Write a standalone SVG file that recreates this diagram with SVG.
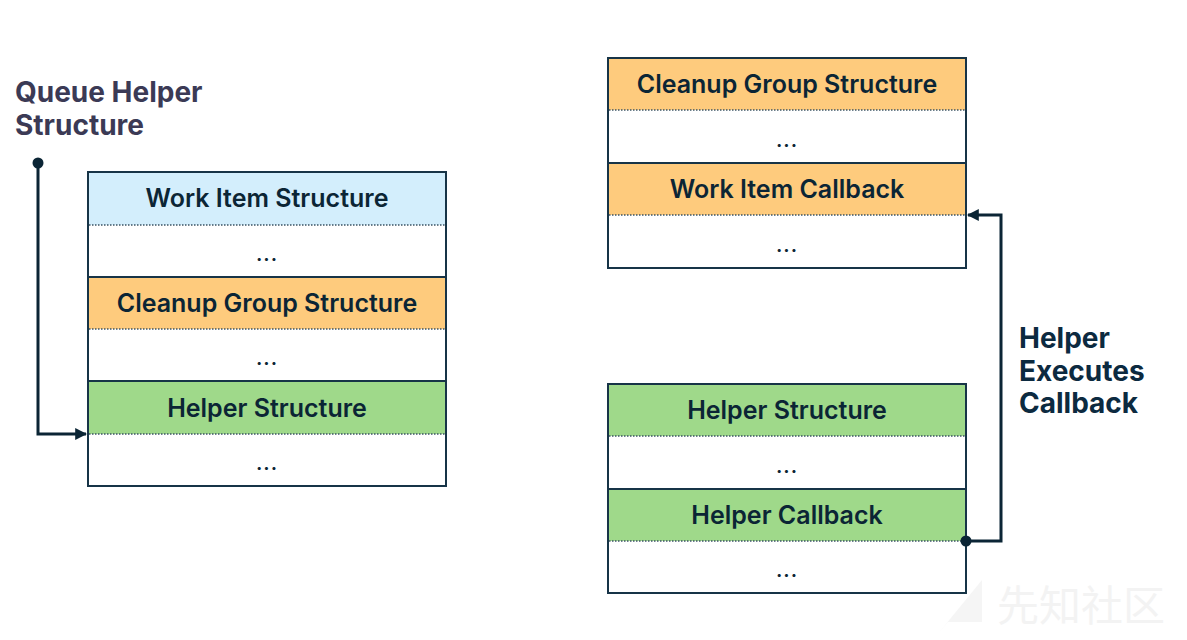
<svg xmlns="http://www.w3.org/2000/svg" width="1187" height="640" viewBox="0 0 1187 640">
<style>
.lbl{font-family:Inter,"Noto Sans",sans-serif;font-weight:600;font-size:25px;fill:#0b2535;text-anchor:middle;dominant-baseline:central}
.dots{font-family:Inter,"Noto Sans",sans-serif;font-weight:600;font-size:20px;letter-spacing:1px;fill:#0b2535;text-anchor:middle;dominant-baseline:central}
.ttl{font-family:Inter,"Noto Sans",sans-serif;font-weight:700;font-size:28px}
.frame{fill:none;stroke:#173447;stroke-width:2}
.solid{stroke:#173447;stroke-width:2}
.dot{stroke:#3b5464;stroke-width:1.5;stroke-dasharray:1.5 1.5}
.blue{fill:#d3eefc}.orange{fill:#fecb7d}.green{fill:#9fd98a}.white{fill:#ffffff}
.conn{fill:none;stroke:#0b2535;stroke-width:3}
</style>
<defs>
<marker id="arr" viewBox="0 0 10 10" refX="9" refY="5" markerWidth="4" markerHeight="4" orient="auto" markerUnits="strokeWidth">
<path d="M0,0 L10,5 L0,10 z" fill="#0b2535"/>
</marker>
</defs>
<rect width="1187" height="640" fill="#ffffff"/>
<text x="1081" y="621" font-family="'Noto Sans CJK SC',sans-serif" font-size="42" fill="#f3f3f3" text-anchor="middle">先知社区</text>
<path d="M937,635 L982,580 L982,622 L948,622 Z" fill="#f5f5f5"/>

<g id="title-left"><text class="ttl" fill="#3b3a55"><tspan x="15" y="102">Queue Helper</tspan><tspan x="15" y="135">Structure</tspan></text></g>
<g id="title-right"><text class="ttl" fill="#0c2a40"><tspan x="1019" y="348">Helper</tspan><tspan x="1019" y="381">Executes</tspan><tspan x="1019" y="413">Callback</tspan></text></g>

<g id="left-table">
<rect class="blue" x="88" y="172" width="358" height="53"/>
<rect class="white" x="88" y="225" width="358" height="52"/>
<rect class="orange" x="88" y="277" width="358" height="52"/>
<rect class="white" x="88" y="329" width="358" height="52"/>
<rect class="green" x="88" y="381" width="358" height="53"/>
<rect class="white" x="88" y="434" width="358" height="52"/>
<line class="dot" x1="89" y1="225" x2="445" y2="225"/>
<line class="solid" x1="88" y1="277" x2="446" y2="277"/>
<line class="dot" x1="89" y1="329" x2="445" y2="329"/>
<line class="solid" x1="88" y1="381" x2="446" y2="381"/>
<line class="dot" x1="89" y1="434" x2="445" y2="434"/>
<rect class="frame" x="88" y="172" width="358" height="314"/>
<text class="lbl" x="267" y="198">Work Item Structure</text>
<text class="dots" x="267" y="254">...</text>
<text class="lbl" x="267" y="303">Cleanup Group Structure</text>
<text class="dots" x="267" y="358">...</text>
<text class="lbl" x="267" y="408">Helper Structure</text>
<text class="dots" x="267" y="463">...</text>
</g>

<g id="right-top-table">
<rect class="orange" x="608" y="58" width="358" height="52"/>
<rect class="white" x="608" y="110" width="358" height="53"/>
<rect class="orange" x="608" y="163" width="358" height="52"/>
<rect class="white" x="608" y="215" width="358" height="53"/>
<line class="dot" x1="609" y1="110" x2="965" y2="110"/>
<line class="solid" x1="608" y1="163" x2="966" y2="163"/>
<line class="dot" x1="609" y1="215" x2="965" y2="215"/>
<rect class="frame" x="608" y="58" width="358" height="210"/>
<text class="lbl" x="787" y="84">Cleanup Group Structure</text>
<text class="dots" x="787" y="140">...</text>
<text class="lbl" x="787" y="189">Work Item Callback</text>
<text class="dots" x="787" y="245">...</text>
</g>

<g id="right-bottom-table">
<rect class="green" x="608" y="384" width="358" height="52"/>
<rect class="white" x="608" y="436" width="358" height="53"/>
<rect class="green" x="608" y="489" width="358" height="52"/>
<rect class="white" x="608" y="541" width="358" height="52"/>
<line class="dot" x1="609" y1="436" x2="965" y2="436"/>
<line class="solid" x1="608" y1="489" x2="966" y2="489"/>
<line class="dot" x1="609" y1="541" x2="965" y2="541"/>
<rect class="frame" x="608" y="384" width="358" height="209"/>
<text class="lbl" x="787" y="410">Helper Structure</text>
<text class="dots" x="787" y="466">...</text>
<text class="lbl" x="787" y="515">Helper Callback</text>
<text class="dots" x="787" y="570">...</text>
</g>

<g id="connectors">
<circle cx="38" cy="163" r="5.5" fill="#0b2535"/>
<path class="conn" d="M38,163 L38,434 L86,434" marker-end="url(#arr)"/>
<circle cx="966" cy="541" r="5.5" fill="#0b2535"/>
<path class="conn" d="M966,541 L1001,541 L1001,215 L968,215" marker-end="url(#arr)"/>
</g>
</svg>
